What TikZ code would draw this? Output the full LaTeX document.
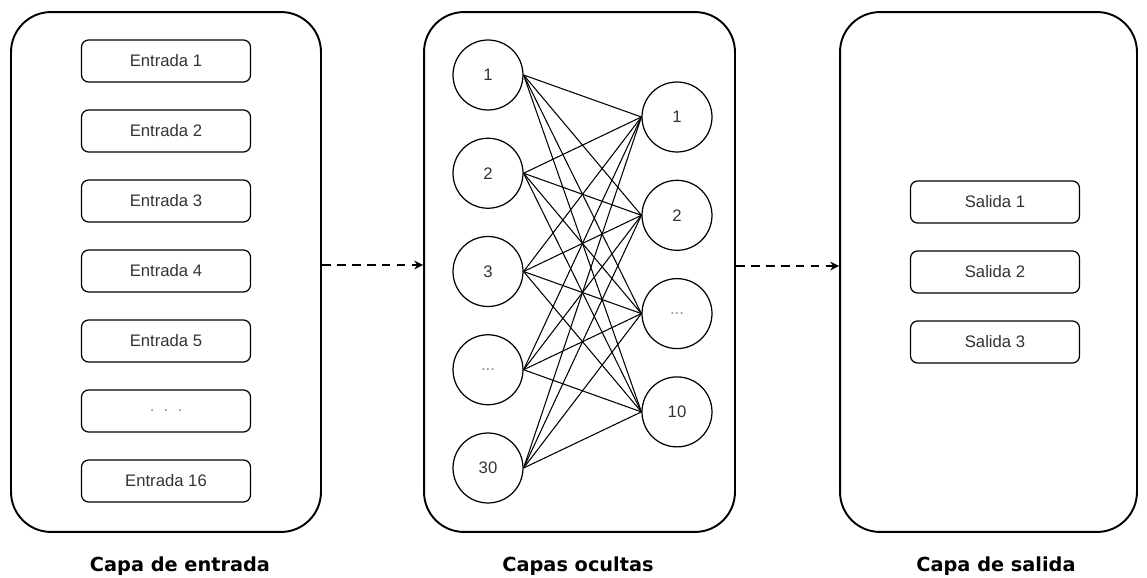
\documentclass[tikz,border=0pt]{standalone}
\usepackage{fontspec}
\setmainfont{Liberation Sans}
\newfontfamily\headfont{DejaVu Sans}
\usetikzlibrary{arrows.meta,positioning}
\definecolor{nntext}{HTML}{333333}
\definecolor{nndots}{HTML}{8C8C8C}

\begin{document}
\begin{tikzpicture}[
    x=0.02cm, y=-0.02cm,
    layer/.style={rectangle, rounded corners=0.8cm, draw, line width=1.1pt,
                  minimum height=10.4cm},
    unit/.style={rectangle, rounded corners=4pt, draw, line width=0.7pt,
                 minimum width=3.38cm, minimum height=0.84cm,
                 font=\fontsize{9.5}{11}\selectfont, text=nntext},
    neuron/.style={circle, draw, line width=0.7pt, minimum size=1.4cm,
                   inner sep=0pt, font=\fontsize{9.5}{11}\selectfont, text=nntext},
    link/.style={line width=0.6pt},
    dasharr/.style={-{Stealth[length=5pt,width=5pt,inset=1.6pt]}, line width=1.3pt,
                    dash pattern=on 5pt off 3.5pt},
    caption/.style={font=\headfont\bfseries\fontsize{11}{13}\selectfont}
  ]

  % ---- Page frame ----
  \useasboundingbox (0,0) rectangle (1147,578);

  % ============ LAYER BOXES ============
  \node[layer, minimum width=6.2cm]  (inbox)  at (166,272) {};
  \node[layer, minimum width=6.22cm] (hidbox) at (579.5,272) {};
  \node[layer, minimum width=5.94cm] (outbox) at (988.5,272) {};

  % ============ INPUTS ============
  \foreach \txt [count=\k] in {Entrada 1, Entrada 2, Entrada 3, Entrada 4,
                                Entrada 5, {\textcolor{nndots}{.\ \ .\ \ .}}, Entrada 16}
    \node[unit] (in\k) at (166,{61+70*(\k-1)}) {\txt};

  % ============ HIDDEN LAYERS ============
  % first column
  \foreach \txt [count=\k] in {1, 2, 3, {\textcolor{nndots}{...}}, 30}
    \node[neuron] (ha\k) at (488,{75+98.25*(\k-1)}) {\txt};

  % second column
  \foreach \txt [count=\k] in {1, 2, {\textcolor{nndots}{...}}, 10}
    \node[neuron] (hb\k) at (677,{117+98.3*(\k-1)}) {\txt};

  % fully connected
  \foreach \a in {1,...,5}
    \foreach \b in {1,...,4}
      \draw[link] (ha\a.east) -- (hb\b.west);

  % ============ OUTPUTS ============
  \foreach \k in {1,2,3}
    \node[unit] (out\k) at (995,{202+70*(\k-1)}) {Salida \k};

  % ============ FLOW ARROWS ============
  \draw[dasharr] ([yshift=0.14cm]inbox.east) -- ([yshift=0.14cm]hidbox.west);
  \draw[dasharr] ([yshift=0.12cm]hidbox.east) -- ([yshift=0.12cm]outbox.west);

  % ============ CAPTIONS ============
  \node[caption] (capin)  at (180,566) {Capa de entrada};
  \node[caption] (caphid) at (578,566) {Capas ocultas};
  \node[caption] (capout) at (996,566) {Capa de salida};

\end{tikzpicture}
\end{document}
